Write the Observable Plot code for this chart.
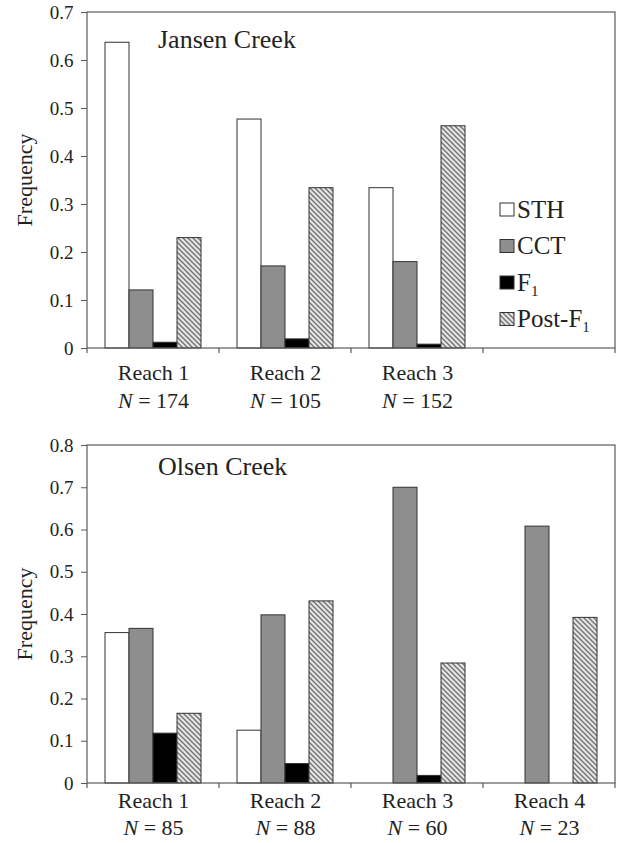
<!DOCTYPE html>
<html>
<head>
<meta charset="utf-8">
<script src="https://cdn.jsdelivr.net/npm/d3@7"></script>
<script src="https://cdn.jsdelivr.net/npm/@observablehq/plot@0.6"></script>
<style>
  body { margin: 0; background: #fff; }
  #wrap { width: 620px; }
  #wrap svg { display: block; }
  #wrap svg text { font-family: "Liberation Serif", "Times New Roman", serif !important; }
</style>
</head>
<body>
<svg width="0" height="0" style="position:absolute">
  <defs>
    <pattern id="hatch" patternUnits="userSpaceOnUse" width="5" height="5">
      <rect width="5" height="5" fill="#e4e4e4"></rect>
      <path d="M-1,-1 L6,6 M4,-1 L6,1 M-1,4 L1,6" stroke="#707070" stroke-width="1.3"></path>
    </pattern>
  </defs>
</svg>
<div id="wrap"><div id="top"></div><div id="bottom"></div></div>
<script>
// ---------- data ----------
const types = ["STH", "CCT", "F1", "Post-F1"];
const typeFills = ["white", "#8e8e8e", "black", "url(#hatch)"];

const jansenTitle = "Jansen Creek";
const jansenReaches = ["Reach 1", "Reach 2", "Reach 3"];
const jansenSlots = ["Reach 1", "Reach 2", "Reach 3", "(legend)"];
const jansenN = [174, 105, 152];
const jansenSTH = [0.637, 0.477, 0.334];
const jansenCCT = [0.121, 0.171, 0.180];
const jansenF1 = [0.012, 0.019, 0.008];
const jansenPost = [0.230, 0.334, 0.463];
const jansenTicks = [0, 0.1, 0.2, 0.3, 0.4, 0.5, 0.6, 0.7];

const olsenTitle = "Olsen Creek";
const olsenReaches = ["Reach 1", "Reach 2", "Reach 3", "Reach 4"];
const olsenSlots = ["Reach 1", "Reach 2", "Reach 3", "Reach 4"];
const olsenN = [85, 88, 60, 23];
const olsenSTH = [0.356, 0.125, 0, 0];
const olsenCCT = [0.366, 0.398, 0.700, 0.608];
const olsenF1 = [0.118, 0.046, 0.018, 0];
const olsenPost = [0.165, 0.431, 0.284, 0.392];
const olsenTicks = [0, 0.1, 0.2, 0.3, 0.4, 0.5, 0.6, 0.7, 0.8];

const yLabel = "Frequency";
const FONT = '"Liberation Serif", "Times New Roman", serif';
const INK = "#222";
const FRAME = "#5a5a5a";

function drawPanel(el, cfg) {
  const rows = [];
  cfg.reaches.forEach((r, i) =>
    types.forEach((t, j) => rows.push({reach: r, type: t, value: cfg.series[j][i]})));
  const nOf = new Map(cfg.reaches.map((r, i) => [r, cfg.n[i]]));
  const ymax = cfg.ticks[cfg.ticks.length - 1];

  const plot = Plot.plot({
    width: 620,
    height: cfg.height,
    marginLeft: 87,
    marginRight: 5,
    marginTop: cfg.mt,
    marginBottom: cfg.mb,
    style: {fontFamily: FONT, fontSize: "19px", color: INK, background: "white", overflow: "visible"},
    fx: {domain: cfg.slots, paddingInner: 0, paddingOuter: 0},
    x: {domain: types, paddingInner: 0, paddingOuter: 0.72, axis: null},
    y: {domain: [0, ymax]},
    color: {domain: types, range: typeFills},
    marks: [
      Plot.barY(rows, {fx: "reach", x: "type", y: "value", fill: "type", stroke: "#333", strokeWidth: 1}),
      Plot.axisY({ticks: cfg.ticks, tickFormat: d => d === 0 ? "0" : d.toFixed(1),
                  tickSize: 6, tickPadding: 8, fontSize: 19, label: null, stroke: FRAME}),
      Plot.axisFx({anchor: "bottom", tickSize: 0, tickPadding: cfg.labelPad, fontSize: 22,
                   lineHeight: cfg.lineHeight, label: null,
                   tickFormat: d => nOf.has(d) ? `${d}\nN = ${nOf.get(d)}` : ""})
    ]
  });

  const s = d3.select(plot);
  const fx = plot.scale("fx"), y = plot.scale("y");
  const left = fx.apply(cfg.slots[0]);
  const right = fx.apply(cfg.slots[cfg.slots.length - 1]) + fx.bandwidth;
  const y0 = y.apply(0), y1 = y.apply(ymax);

  // frame
  s.append("rect").attr("x", left).attr("y", y1).attr("width", right - left).attr("height", y0 - y1)
    .attr("fill", "none").attr("stroke", FRAME).attr("stroke-width", 1.2);
  // category boundary ticks
  const bounds = cfg.slots.map(d => fx.apply(d)).concat([right]);
  s.append("g").selectAll("line").data(bounds).join("line")
    .attr("x1", d => d).attr("x2", d => d).attr("y1", y0).attr("y2", y0 + 5)
    .attr("stroke", FRAME).attr("stroke-width", 1.2);

  // italic N in the tick labels
  s.selectAll("tspan").each(function () {
    const t = this.textContent;
    if (t.startsWith("N = ")) {
      this.textContent = "";
      d3.select(this).append("tspan").attr("font-style", "italic").text("N");
      d3.select(this).append("tspan").text(t.slice(1));
    }
  });

  // y label
  s.append("text").attr("transform", `translate(24,${(y0 + y1) / 2}) rotate(-90)`)
    .attr("text-anchor", "middle").attr("dominant-baseline", "central")
    .attr("font-family", FONT).attr("font-size", 22).attr("fill", INK).text(yLabel);

  // panel title
  s.append("text").attr("x", 158).attr("y", y1 + cfg.titleDy).attr("text-anchor", "start")
    .attr("font-family", FONT).attr("font-size", 26).attr("fill", INK).text(cfg.title);

  // legend
  if (cfg.legend) {
    const g = s.append("g").attr("font-family", FONT).attr("font-size", 25).attr("fill", INK)
      .attr("text-anchor", "start");
    types.forEach((t, k) => {
      const top = 203 + k * 36.5;
      g.append("rect").attr("x", 500).attr("y", top).attr("width", 14).attr("height", 13)
        .attr("fill", typeFills[k]).attr("stroke", "#333").attr("stroke-width", 1);
      const tx = g.append("text").attr("x", 517).attr("y", top + 14.5);
      const m = t.match(/^(.*F)1$/);
      if (m) {
        tx.append("tspan").text(m[1]);
        tx.append("tspan").attr("font-size", 15).attr("dy", 5).text("1");
      } else {
        tx.text(t);
      }
    });
  }

  el.appendChild(plot);
}

drawPanel(document.getElementById("top"), {
  title: jansenTitle, reaches: jansenReaches, slots: jansenSlots, n: jansenN,
  series: [jansenSTH, jansenCCT, jansenF1, jansenPost], ticks: jansenTicks,
  height: 420, mt: 12, mb: 72, titleDy: 36, legend: true, labelPad: 11, lineHeight: 1.3
});
drawPanel(document.getElementById("bottom"), {
  title: olsenTitle, reaches: olsenReaches, slots: olsenSlots, n: olsenN,
  series: [olsenSTH, olsenCCT, olsenF1, olsenPost], ticks: olsenTicks,
  height: 423, mt: 25, mb: 60, titleDy: 30, legend: false, labelPad: 6, lineHeight: 1.2
});
</script>
</body>
</html>
